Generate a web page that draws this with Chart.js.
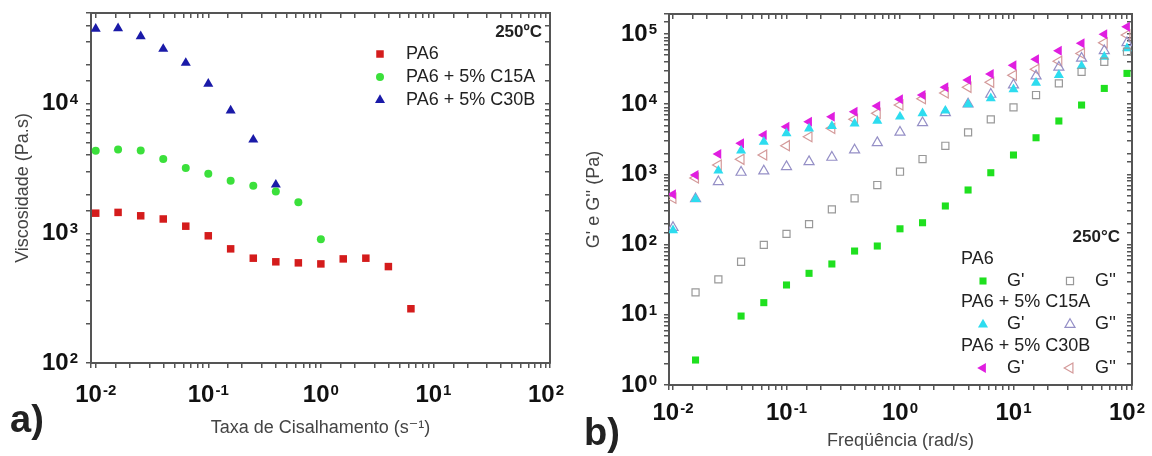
<!DOCTYPE html>
<html>
<head>
<meta charset="utf-8">
<script src="https://cdn.jsdelivr.net/npm/chart.js@4/dist/chart.umd.min.js"></script>
<style>
  html, body { margin: 0; padding: 0; background: #fff; }
  #wrap { position: relative; width: 1152px; height: 456px; }
  .box { position: absolute; top: 0; width: 576px; height: 456px; }
</style>
</head>
<body>
<div id="wrap">
  <div class="box" style="left:0"><canvas id="chartA" width="576" height="456"></canvas></div>
  <div class="box" style="left:576px"><canvas id="chartB" width="576" height="456"></canvas></div>
</div>
<script>
// a) viscosidade x taxa de cisalhamento
const shearRate = [0.01, 0.0158, 0.0251, 0.0398, 0.0631, 0.1, 0.158, 0.251, 0.398, 0.631, 1, 1.58, 2.51, 3.98, 6.31];
const viscPA6 = [1430, 1450, 1365, 1290, 1135, 957, 759, 643, 603, 592, 581, 635, 643, 554, 262];
const viscC15A = [4340, 4420, 4360, 3740, 3190, 2880, 2540, 2330, 2100, 1740, 902];
const viscC30B = [37700, 38100, 33100, 26400, 20600, 14200, 8830, 5270, 2370];
const seriesA = ["PA6", "PA6 + 5% C15A", "PA6 + 5% C30B"];
const decadesA_x = [-2, -1, 0, 1, 2];
const decadesA_y = [2, 3, 4];

// b) G' e G'' x frequencia
const freq = [0.01, 0.0158, 0.0251, 0.0398, 0.0631, 0.1, 0.158, 0.251, 0.398, 0.631, 1, 1.58, 2.51, 3.98, 6.31, 10, 15.8, 25.1, 39.8, 63.1, 100];
const gpPA6 = [null, 2.27, null, 9.6, 14.9, 26.6, 39, 53, 81, 95.5, 168, 205, 355, 600, 1057, 1890, 3330, 5770, 9740, 16800, 27500];
const gppPA6 = [null, 20.9, 32, 57, 99, 142, 196, 318, 457, 706, 1093, 1657, 2560, 3980, 6090, 9030, 13530, 19860, 29000, 40300, 56000];
const gpC15A = [160, 446, 1130, 2180, 2920, 3850, 4500, 4900, 5300, 5820, 6640, 7410, 8090, 10000, 12130, 16300, 20200, 26000, 35000, 47500, 62500];
const gppC15A = [175, 450, 787, 1070, 1117, 1290, 1517, 1750, 2228, 2830, 3980, 5450, 7570, 10070, 13840, 18770, 25200, 33600, 45100, 57800, 75200];
const gpC30B = [521, 980, 1953, 2770, 3640, 4780, 5630, 6640, 7820, 9420, 11740, 13530, 17400, 22100, 26900, 35800, 43600, 57800, 73800, 99100, 127000];
const gppC30B = [457, 889, 1360, 1640, 1890, 2570, 3440, 4530, 6090, 7410, 9740, 12000, 14500, 17400, 20500, 25800, 31500, 41000, 53000, 75000, 97000];
const groupsB = ["PA6", "PA6 + 5% C15A", "PA6 + 5% C30B"];
const decadesB_x = [-2, -1, 0, 1, 2];
const decadesB_y = [0, 1, 2, 3, 4, 5];

const FONT = "'Liberation Sans', Arial, 'DejaVu Sans', sans-serif";

function toPoints(xs, ys) {
  return xs.map((x, i) => ({ x: x, y: ys[i] })).filter(p => p.y != null);
}

function marker(label, data, style, color, radius, open, rotation) {
  return {
    label: label,
    data: data,
    showLine: false,
    pointStyle: style,
    pointRotation: rotation || 0,
    pointRadius: radius,
    pointHoverRadius: radius,
    pointBackgroundColor: open ? "rgba(0,0,0,0)" : color,
    pointBorderColor: color,
    pointBorderWidth: open ? 1.2 : 0,
  };
}

function drawMarker(ctx, ds, x, y) {
  ctx.save();
  ctx.fillStyle = ds.pointBackgroundColor;
  ctx.strokeStyle = ds.pointBorderColor;
  ctx.lineWidth = ds.pointBorderWidth;
  Chart.helpers.drawPoint(ctx, {
    pointStyle: ds.pointStyle,
    rotation: ds.pointRotation,
    radius: ds.pointRadius,
    borderWidth: ds.pointBorderWidth,
  }, x, y);
  ctx.restore();
}

// "10" com expoente elevado
function drawPow(ctx, exp, x, y, align) {
  const big = "bold 24px " + FONT, small = "bold 15px " + FONT;
  const es = String(exp);
  ctx.font = big;
  const w1 = ctx.measureText("10").width;
  ctx.font = small;
  const w2 = ctx.measureText(es).width;
  const total = w1 + 1 + w2;
  const x0 = align === "center" ? x - total / 2 : x - total;
  ctx.textAlign = "left";
  ctx.fillStyle = "#111";
  ctx.font = big;
  ctx.textBaseline = "middle";
  ctx.fillText("10", x0, y);
  ctx.font = small;
  ctx.textBaseline = "alphabetic";
  ctx.fillText(es, x0 + w1 + 1, y);
}

function powLabels(xDec, yDec, xLabelY, yLabelRight) {
  return {
    id: "powLabels",
    afterDraw(chart) {
      const ctx = chart.ctx;
      ctx.save();
      xDec.forEach(e => drawPow(ctx, e, chart.scales.x.getPixelForValue(Math.pow(10, e)), xLabelY, "center"));
      yDec.forEach(e => drawPow(ctx, e, yLabelRight, chart.scales.y.getPixelForValue(Math.pow(10, e)), "right"));
      ctx.restore();
    }
  };
}

function logScales(xmin, xmax, ymin, ymax, opt) {
  const axisColor = "#555";
  const grid = len => ({ drawOnChartArea: false, tickLength: len, color: axisColor, lineWidth: 1.5 });
  return {
    x: {
      type: "logarithmic", position: "bottom", min: xmin, max: xmax,
      afterFit: s => { s.height = opt.bottom; },
      border: { color: axisColor, width: 2 },
      grid: grid(5),
      ticks: { display: false },
      title: { display: true, text: opt.xTitle, color: "#444", font: { family: FONT, size: 18 }, padding: { top: 0, bottom: opt.xTitlePad } },
    },
    x2: {
      type: "logarithmic", position: "top", min: xmin, max: xmax,
      afterFit: s => { s.height = opt.top; },
      border: { color: axisColor, width: 2 },
      grid: grid(-5),
      ticks: { display: false },
    },
    y: {
      type: "logarithmic", position: "left", min: ymin, max: ymax,
      afterFit: s => { s.width = opt.left; },
      border: { color: axisColor, width: 2 },
      grid: grid(5),
      ticks: { display: false },
      title: { display: true, text: opt.yTitle, color: "#444", font: { family: FONT, size: 18 }, padding: { top: opt.yTitlePad, bottom: 0 } },
    },
    y2: {
      type: "logarithmic", position: "right", min: ymin, max: ymax,
      afterFit: s => { s.width = opt.right; },
      border: { color: axisColor, width: 2 },
      grid: grid(-5),
      ticks: { display: false },
    },
  };
}

// legenda e textos do grafico a)
const notesA = {
  id: "notesA",
  afterDraw(chart) {
    const ctx = chart.ctx;
    ctx.save();
    ctx.fillStyle = "#222";
    ctx.textBaseline = "middle";
    ctx.font = "bold 17px " + FONT;
    ctx.textAlign = "right";
    ctx.fillText("250\u00BAC", 542, 32);
    ctx.font = "18px " + FONT;
    ctx.textAlign = "left";
    chart.data.datasets.forEach((ds, i) => {
      const y = 54 + i * 23;
      drawMarker(ctx, ds, 380, y);
      ctx.fillStyle = "#222";
      ctx.fillText(ds.label, 406, y);
    });
    ctx.font = "bold 38px " + FONT;
    ctx.fillText("a)", 10, 422);
    ctx.restore();
  }
};

// legenda e textos do grafico b)
const notesB = {
  id: "notesB",
  afterDraw(chart) {
    const ctx = chart.ctx;
    const ds = chart.data.datasets;
    ctx.save();
    ctx.fillStyle = "#222";
    ctx.textBaseline = "middle";
    ctx.font = "bold 17px " + FONT;
    ctx.textAlign = "right";
    ctx.fillText("250\u00B0C", 544, 237);
    ctx.textAlign = "left";
    groupsB.forEach((g, i) => {
      const yh = 259 + i * 43.5;
      const yr = yh + 22;
      ctx.font = "18px " + FONT;
      ctx.fillStyle = "#222";
      ctx.fillText(g, 385, yh);
      drawMarker(ctx, ds[i * 2], 407, yr);
      drawMarker(ctx, ds[i * 2 + 1], 494, yr);
      ctx.fillStyle = "#222";
      ctx.fillText("G'", 431, yr);
      ctx.fillText("G''", 519, yr);
    });
    ctx.font = "bold 38px " + FONT;
    ctx.fillText("b)", 8, 435);
    ctx.restore();
  }
};

new Chart(document.getElementById("chartA"), {
  type: "scatter",
  data: {
    datasets: [
      marker(seriesA[0], toPoints(shearRate, viscPA6), "rect", "#d41c1c", 5.3, false),
      marker(seriesA[1], toPoints(shearRate, viscC15A), "circle", "#3be03b", 4, false),
      marker(seriesA[2], toPoints(shearRate, viscC30B), "triangle", "#1a1aa8", 5.8, false),
    ],
  },
  options: {
    responsive: false,
    animation: false,
    layout: { padding: 0 },
    plugins: { legend: { display: false }, tooltip: { enabled: false } },
    scales: logScales(0.00908, 108.5, 100, 50000, {
      top: 13, bottom: 93, left: 91, right: 26,
      xTitlePad: 17, yTitlePad: 12,
      xTitle: "Taxa de Cisalhamento (s\u207B\u00B9)", yTitle: "Viscosidade (Pa.s)",
    }),
  },
  plugins: [notesA, powLabels(decadesA_x, decadesA_y, 395, 78)],
});

new Chart(document.getElementById("chartB"), {
  type: "scatter",
  data: {
    datasets: [
      marker("PA6 G'", toPoints(freq, gpPA6), "rect", "#1fe01f", 5, false),
      marker("PA6 G''", toPoints(freq, gppPA6), "rect", "#999999", 5, true),
      marker("PA6 + 5% C15A G'", toPoints(freq, gpC15A), "triangle", "#2ddcef", 5.8, false),
      marker("PA6 + 5% C15A G''", toPoints(freq, gppC15A), "triangle", "#958fc6", 5.8, true),
      marker("PA6 + 5% C30B G'", toPoints(freq, gpC30B), "triangle", "#e01ee0", 5.8, false, -90),
      marker("PA6 + 5% C30B G''", toPoints(freq, gppC30B), "triangle", "#d49a9a", 5.8, true, -90),
    ],
  },
  options: {
    responsive: false,
    animation: false,
    layout: { padding: 0 },
    plugins: { legend: { display: false }, tooltip: { enabled: false } },
    scales: logScales(0.00922, 110.7, 1, 193000, {
      top: 14, bottom: 71, left: 93, right: 20,
      xTitlePad: 4, yTitlePad: 7,
      xTitle: "Freq\u00FC\u00EAncia (rad/s)", yTitle: "G' e G'' (Pa)",
    }),
  },
  plugins: [notesB, powLabels(decadesB_x, decadesB_y, 413, 81)],
});
</script>
</body>
</html>
